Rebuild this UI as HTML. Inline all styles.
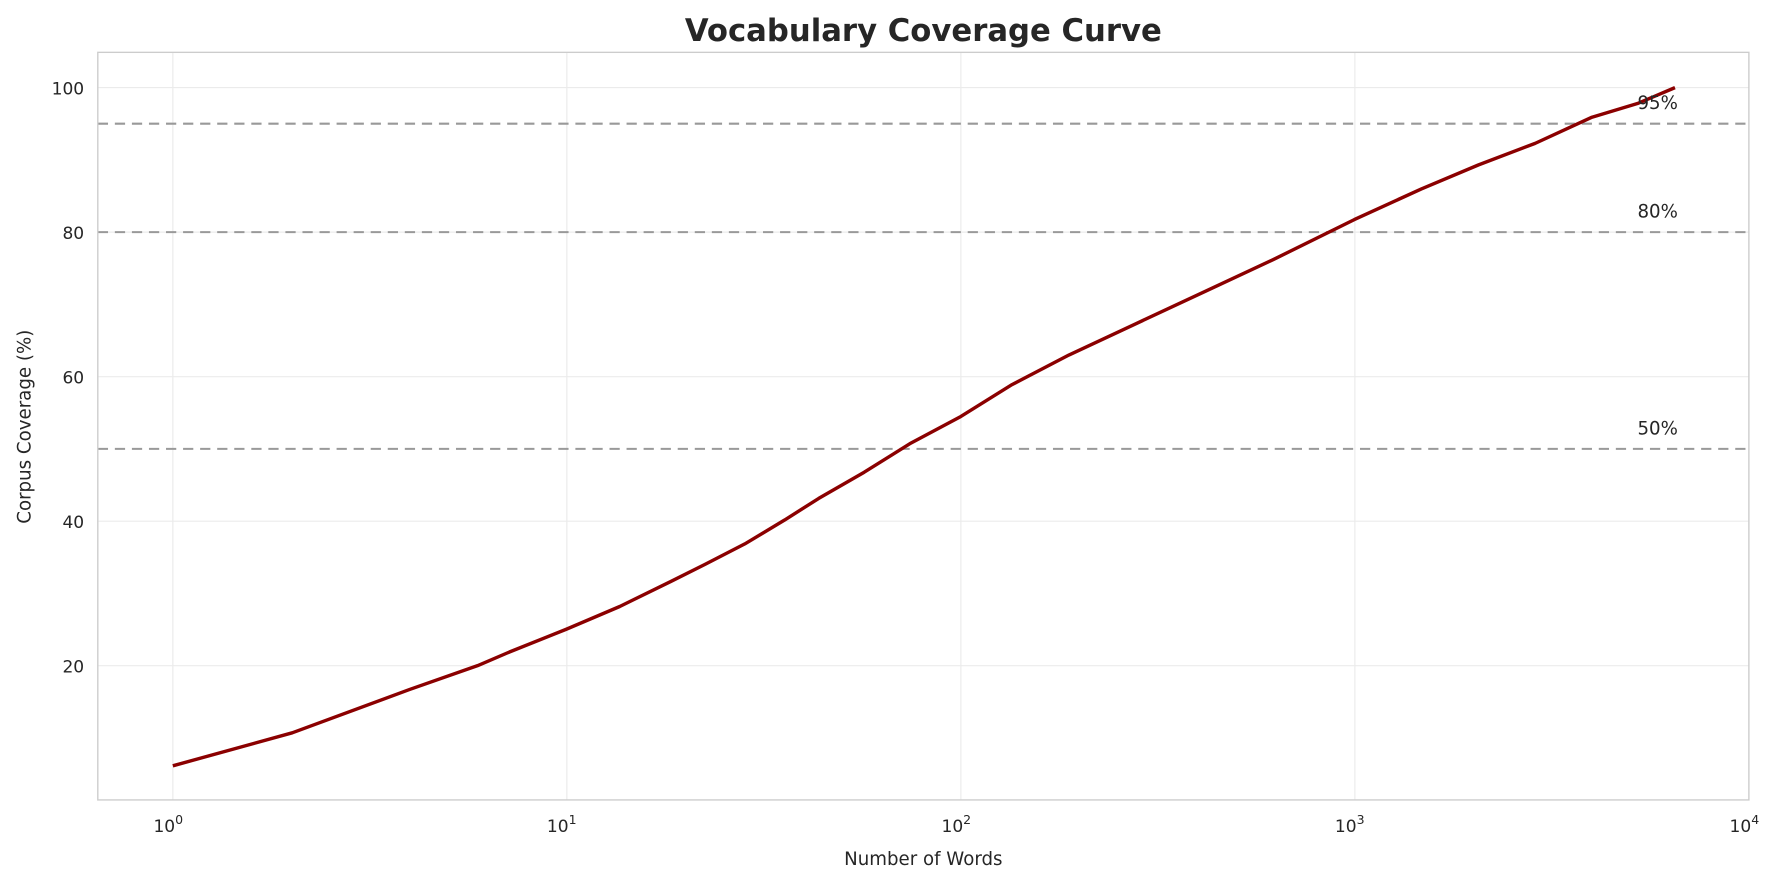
<!DOCTYPE html>
<html><head><meta charset="utf-8"><style>
html,body{margin:0;padding:0;background:#fff;}
svg{display:block;}
text{font-family:"DejaVu Sans","Liberation Sans",sans-serif;fill:#262626;}
</style></head><body>
<svg width="1783" height="883" viewBox="0 0 1568 776" preserveAspectRatio="none" xmlns="http://www.w3.org/2000/svg">
<rect x="0" y="0" width="1568" height="776" fill="#fff"/>
<g stroke="#ebebeb" stroke-width="1">
<line x1="152" y1="46" x2="152" y2="703"/>
<line x1="498.5" y1="46" x2="498.5" y2="703"/>
<line x1="845" y1="46" x2="845" y2="703"/>
<line x1="1191.5" y1="46" x2="1191.5" y2="703"/>
<line x1="86" y1="77" x2="1538" y2="77"/>
<line x1="86" y1="204" x2="1538" y2="204"/>
<line x1="86" y1="331" x2="1538" y2="331"/>
<line x1="86" y1="458" x2="1538" y2="458"/>
<line x1="86" y1="585" x2="1538" y2="585"/>
</g>
<g stroke="#999" stroke-width="1.8" stroke-dasharray="9,6">
<line x1="86" y1="108.7" x2="1538" y2="108.7"/>
<line x1="86" y1="204" x2="1538" y2="204"/>
<line x1="86" y1="394.5" x2="1538" y2="394.5"/>
</g>
<polyline fill="none" stroke="#8b0000" stroke-width="3" stroke-linejoin="round" points="152,673 257,644 360,606 420,585 448,573 498,553 545,533 590,511 620,496 655,478 690,457 720,438 760,415 800,390 845,366 890,338 940,312 1000,284 1060,256 1120,228 1191,193 1250,166 1300,145 1350,126 1400,103 1440,91 1473,77"/>
<rect x="86" y="46" width="1452" height="657" fill="none" stroke="#ccc" stroke-width="1.2"/>
<g font-size="16">
<text x="1440" y="96">95%</text>
<text x="1440" y="191">80%</text>
<text x="1440" y="382">50%</text>
</g>
<g font-size="15" text-anchor="end">
<text x="74" y="83">100</text>
<text x="74" y="210">80</text>
<text x="74" y="337">60</text>
<text x="74" y="464">40</text>
<text x="74" y="591">20</text>
</g>
<g font-size="15" text-anchor="middle">
<text x="148" y="731">10<tspan font-size="11" dy="-7">0</tspan></text>
<text x="494" y="731">10<tspan font-size="11" dy="-7">1</tspan></text>
<text x="841" y="731">10<tspan font-size="11" dy="-7">2</tspan></text>
<text x="1187" y="731">10<tspan font-size="11" dy="-7">3</tspan></text>
<text x="1534" y="731">10<tspan font-size="11" dy="-7">4</tspan></text>
</g>
<text x="812" y="760" font-size="16" text-anchor="middle">Number of Words</text>
<text transform="translate(27,375) rotate(-90)" font-size="16" text-anchor="middle">Corpus Coverage (%)</text>
<text x="812" y="36" font-size="27" font-weight="bold" text-anchor="middle">Vocabulary Coverage Curve</text>
</svg>
</body></html>
